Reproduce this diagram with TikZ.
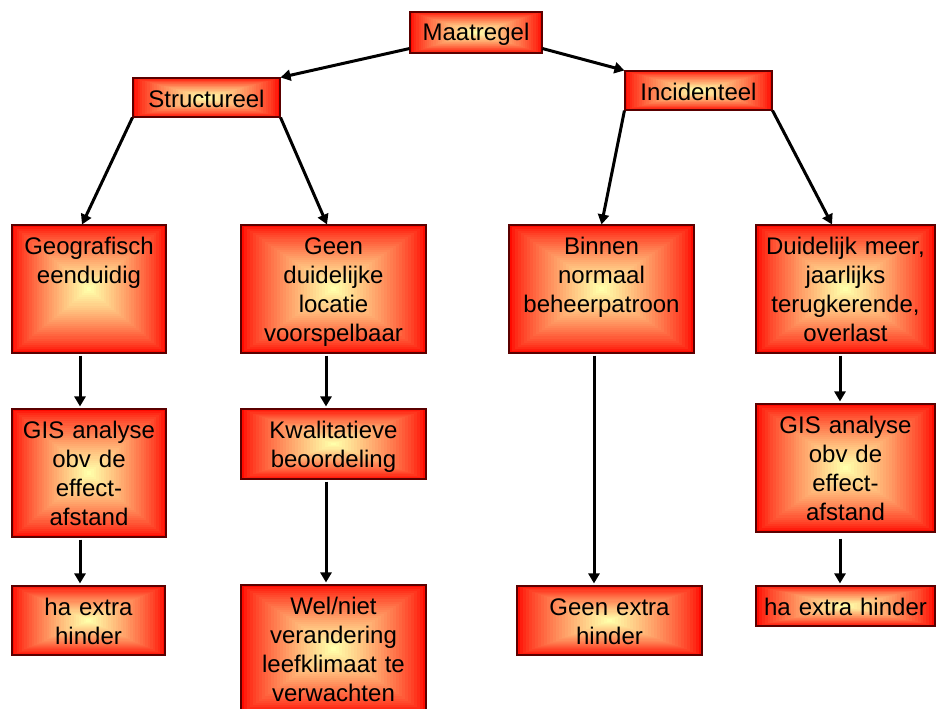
\documentclass[tikz,border=0pt]{standalone}
\usepackage{fontspec}
\setmainfont{Liberation Sans}
\usetikzlibrary{calc,arrows.meta}
\definecolor{yc}{RGB}{255,255,170}
\definecolor{rc}{RGB}{255,10,0}
\definecolor{edgec}{RGB}{90,0,0}
\tikzset{
  gbox/.style={draw=edgec, line width=1.1pt, inner sep=0pt, rectangle,
    path picture={
      \foreach \i in {0,...,30}{
        \pgfmathsetmacro\f{1-\i/31}
        \pgfmathsetmacro\m{100*(\i/30)^0.75}
        \fill[yc!\m!rc] ($(path picture bounding box.center)!\f!(path picture bounding box.south west)$) rectangle ($(path picture bounding box.center)!\f!(path picture bounding box.north east)$);
      }}},
  btext/.style={inner sep=0pt, align=center, font=\fontsize{24}{29.3}\selectfont, text=black},
  arr/.style={line width=3pt, -{Triangle[length=10pt,width=11pt]}},
}
\newcommand\gbx[6]{%
  \pgfmathsetmacro\bw{#4-#2}%
  \pgfmathsetmacro\bh{#5-#3}%
  \node[gbox, minimum width=\bw pt, minimum height=\bh pt] (#1) at ({(#2+#4)/2},{(#3+#5)/2}) {};
  \node[btext, text width=\bw pt, anchor=base] (#1t) at ({(#2+#4)/2},{#3+29}) {#6};
}
\begin{document}
\begin{tikzpicture}[x=1pt,y=-1pt]
\useasboundingbox (0,0) rectangle (937,709);
\gbx{m}{410}{12}{542}{53}{Maatregel}
\gbx{s}{133}{78}{280}{117}{Structureel}
\gbx{i}{625}{71}{772}{110}{Incidenteel}
\gbx{geo}{12}{225}{166}{353}{Geografisch\\eenduidig}
\gbx{geen}{241}{225}{426}{353}{Geen\\duidelijke\\locatie\\voorspelbaar}
\gbx{bin}{509}{225}{694}{353}{Binnen\\normaal\\beheerpatroon}
\gbx{dui}{756}{225}{935}{353}{Duidelijk meer,\\jaarlijks\\terugkerende,\\overlast}
\gbx{gisa}{12}{409}{166}{537}{GIS analyse\\obv de\\effect-\\afstand}
\gbx{kwal}{241}{409}{426}{479}{Kwalitatieve\\beoordeling}
\gbx{gisb}{756}{404}{935}{532}{GIS analyse\\obv de\\effect-\\afstand}
\gbx{haa}{12}{586}{165}{655}{ha extra\\hinder}
\gbx{wel}{241}{585}{426}{713}{Wel/niet\\verandering\\leefklimaat te\\verwachten}
\gbx{geenx}{517}{586}{702}{655}{Geen extra\\hinder}
\gbx{hab}{756}{586}{935}{626}{ha extra hinder}
% top-level arrows
\draw[arr] ([yshift=5pt]m.south west) -- (s.north east);
\draw[arr] ([yshift=5pt]m.south east) -- (i.north west);
\draw[arr] (s.south west) -- ([xshift=-7pt]geo.north);
\draw[arr] (s.south east) -- ([xshift=-6.5pt]geen.north);
\draw[arr] (i.south west) -- (bin.north);
\draw[arr] (i.south east) -- ([xshift=-13.5pt]dui.north);
% vertical arrows
\coordinate (c1) at ([xshift=-9pt,yshift=-2pt]geo.south);
\coordinate (c2) at ([xshift=-9pt,yshift=-2pt]gisa.south);
\coordinate (c3) at ([xshift=-7.5pt,yshift=-2pt]geen.south);
\coordinate (c4) at ([xshift=-7.5pt,yshift=-2pt]kwal.south);
\coordinate (c5) at ([xshift=-7.5pt,yshift=-2pt]bin.south);
\coordinate (c6) at ([xshift=-5.5pt,yshift=-2pt]dui.south);
\coordinate (c7) at ([xshift=-5.5pt,yshift=-6pt]gisb.south);
\draw[arr, shorten >=2pt] (c1) -- (c1 |- gisa.north);
\draw[arr, shorten >=2pt] (c2) -- (c2 |- haa.north);
\draw[arr, shorten >=2pt] (c3) -- (c3 |- kwal.north);
\draw[arr, shorten >=2pt] (c4) -- (c4 |- wel.north);
\draw[arr, shorten >=2pt] (c5) -- (c5 |- geenx.north);
\draw[arr, shorten >=2pt] (c6) -- (c6 |- gisb.north);
\draw[arr, shorten >=2pt] (c7) -- (c7 |- hab.north);
\end{tikzpicture}
\end{document}
